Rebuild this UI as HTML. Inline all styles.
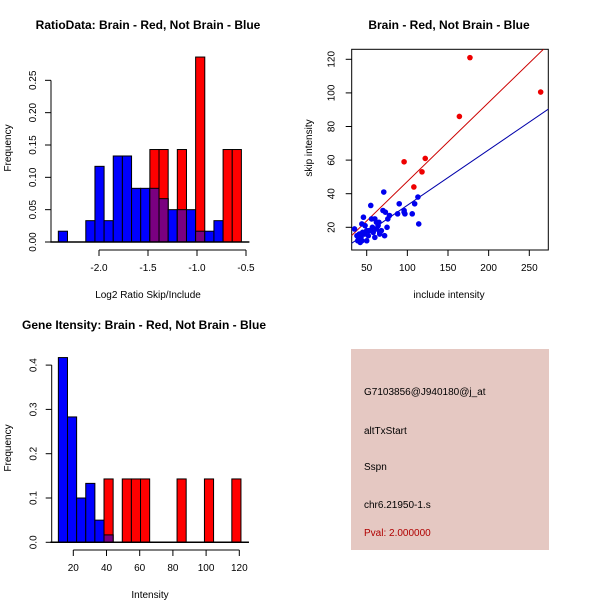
<!DOCTYPE html>
<html><head><meta charset="utf-8"><style>
body{margin:0;background:#fff;}
svg{display:block;font-family:"Liberation Sans",sans-serif;}
</style></head><body>
<svg id="c" width="600" height="600" viewBox="0 0 600 600">
<rect x="0" y="0" width="600" height="600" fill="#fff"/>
<text x="148" y="29" font-size="12" font-weight="bold" text-anchor="middle">RatioData: Brain - Red, Not Brain - Blue</text>
<text x="449" y="29" font-size="12" font-weight="bold" text-anchor="middle">Brain - Red, Not Brain - Blue</text>
<text x="144" y="329" font-size="12" font-weight="bold" text-anchor="middle">Gene Itensity: Brain - Red, Not Brain - Blue</text>
<text x="148" y="298" font-size="10" text-anchor="middle">Log2 Ratio Skip/Include</text>
<text x="11" y="148" font-size="10" text-anchor="middle" transform="rotate(-90 11 148)">Frequency</text>
<text x="449" y="298" font-size="10" text-anchor="middle">include intensity</text>
<text x="312" y="148" font-size="10" text-anchor="middle" transform="rotate(-90 312 148)">skip intensity</text>
<text x="150" y="598" font-size="10" text-anchor="middle">Intensity</text>
<text x="11" y="448" font-size="10" text-anchor="middle" transform="rotate(-90 11 448)">Frequency</text>
<g>
<rect x="351" y="349" width="198" height="201" fill="#e5c8c2"/>
<text x="364" y="395" font-size="10">G7103856@J940180@j_at</text>
<text x="364" y="434" font-size="10">altTxStart</text>
<text x="364" y="470" font-size="10">Sspn</text>
<text x="364" y="508" font-size="10">chr6.21950-1.s</text>
<text x="364" y="536" font-size="10" fill="#b00000">Pval: 2.000000</text>
</g>
</svg>
<script>
// Ratio histogram data
const ratioBinStart = -2.415, ratioBinWidth = 0.0934;
const ratioBlue = [0.0167,0,0,0.033,0.117,0.033,0.133,0.133,0.083,0.083,0.083,0.067,0.05,0.05,0.05,0.0167,0.0167,0.033,0,0];
const ratioRed  = [0,0,0,0,0,0,0,0,0,0,0.143,0.143,0,0.143,0,0.286,0,0,0.143,0.143];
const ratioXTicks = [-2.0,-1.5,-1.0,-0.5];
const ratioXLabels = ["-2.0","-1.5","-1.0","-0.5"];
const ratioYTicks = [0,0.05,0.10,0.15,0.20,0.25];
const ratioYLabels = ["0.00","0.05","0.10","0.15","0.20","0.25"];
// Intensity histogram data
const intBinStart = 11, intBinWidth = 5.5;
const intBlue = [0.417,0.283,0.1,0.133,0.05,0.0167,0,0,0,0,0,0,0,0,0,0,0,0,0,0];
const intRed  = [0,0,0,0,0,0.143,0,0.143,0.143,0.143,0,0,0,0.143,0,0,0.143,0,0,0.143];
const intXTicks = [20,40,60,80,100,120];
const intYTicks = [0,0.1,0.2,0.3,0.4];
const intYLabels = ["0.0","0.1","0.2","0.3","0.4"];
// Scatter data
const redX = [96,122,118,108,164,177,264];
const redY = [59,61,53,44,86,121,100.5];
const blueX = [35,38,40,42,44,41,45,46,48,50,52,50,55,56,57,58,60,62,62,64,66,68,70,71,73,75,76,78,72,88,90,96,96,97,106,109,113,114,60,65,43,47,53,39,44,66];
const blueY = [19,15,13,11,12,16,17,26,21,18,15,12,33,25,20,17,14,23,19,21,16,18,30,41,29,20,25,27,15,28,34,30,29,28,28,34,38,22,25,23,14,16,18,12,22,17];
const redLine = [0.3, 0.47];   // intercept, slope
const blueLine = [0.1, 0.33];
const scXTicks = [50,100,150,200,250];
const scYTicks = [20,40,60,80,100,120];

const NS = "http://www.w3.org/2000/svg";
const svg = document.getElementById('c');
function mk(tag, attrs, parent){const e=document.createElementNS(NS,tag);for(const k in attrs)e.setAttribute(k,attrs[k]);(parent||svg).appendChild(e);return e;}

function hist(opts){
  const g = mk('g',{});
  
  
  const sx = v => opts.x0 + (v - opts.xv0) * opts.kx;
  const sy = v => opts.y0 - v * opts.ky;
  for(let i=0;i<opts.blue.length;i++){
    const a = opts.start + i*opts.width, b = a + opts.width;
    const x1 = sx(a), x2 = sx(b);
    const bl = opts.blue[i], rd = opts.red[i];
    if(bl>0){const r=mk('rect',{x:x1,y:sy(bl),width:x2-x1,height:sy(0)-sy(bl),fill:'#0000ff',stroke:'#000','stroke-width':1},g);
      
      }
    if(rd>0){const r=mk('rect',{x:x1,y:sy(rd),width:x2-x1,height:sy(0)-sy(rd),fill:'#ff0000',stroke:'#000','stroke-width':1},g);
      
      }
    const m = Math.min(bl,rd);
    if(m>0){const r=mk('rect',{x:x1,y:sy(m),width:x2-x1,height:sy(0)-sy(m),fill:'#7a0080',stroke:'#000','stroke-width':1},g);
      
      }
  }
  const xs = sx(opts.start), xe = sx(opts.start+opts.width*opts.blue.length);
  mk('line',{x1:xs-8,y1:sy(0),x2:xe+8,y2:sy(0),stroke:'#000','stroke-width':1.5},g);
  const ya = mk('g',{},g);
  
  
  const yt = opts.yTicks;
  mk('line',{x1:opts.yAxisX,y1:sy(yt[0]),x2:opts.yAxisX,y2:sy(yt[yt.length-1]),stroke:'#000'},ya);
  yt.forEach((t,i)=>{mk('line',{x1:opts.yAxisX-6,y1:sy(t),x2:opts.yAxisX,y2:sy(t),stroke:'#000'},ya);
    const lx=opts.yAxisX-15;
    const tx=mk('text',{x:lx,y:sy(t),'font-size':10,'text-anchor':'middle',transform:`rotate(-90 ${lx} ${sy(t)})`},ya);tx.textContent=opts.yLabels[i];});
  const xa = mk('g',{},g);
  
  
  const xt = opts.xTicks, yx = opts.xAxisY;
  mk('line',{x1:sx(xt[0]),y1:yx,x2:sx(xt[xt.length-1]),y2:yx,stroke:'#000'},xa);
  xt.forEach((t,i)=>{mk('line',{x1:sx(t),y1:yx,x2:sx(t),y2:yx+6,stroke:'#000'},xa);
    const tx=mk('text',{x:sx(t),y:yx+21,'font-size':10,'text-anchor':'middle'},xa);tx.textContent=opts.xLabels[i];});
}
hist({name:'ratio-histogram',blue:ratioBlue,red:ratioRed,start:ratioBinStart,width:ratioBinWidth,
  x0:99,xv0:-2,kx:98,y0:242,ky:646.7,yAxisX:51,xAxisY:250,
  xTicks:ratioXTicks,xLabels:ratioXLabels,yTicks:ratioYTicks,yLabels:ratioYLabels});
hist({name:'intensity-histogram',blue:intBlue,red:intRed,start:intBinStart,width:intBinWidth,
  x0:73.3,xv0:20,kx:1.66,y0:542.3,ky:443,yAxisX:51.7,xAxisY:550,
  xTicks:intXTicks,xLabels:intXTicks.map(String),yTicks:intYTicks,yLabels:intYLabels});

(function(){
  const L=351.7,R=548.3,T=49.3,B=250;
  const sx = v => 366.7 + (v-50)*0.813;
  const sy = v => 227.3 - (v-20)*1.68;
  const g = mk('g',{});
  
  
  const cp = mk('clipPath',{id:'clp'},g);
  mk('rect',{x:L,y:T,width:R-L,height:B-T},cp);
  const box = mk('rect',{x:L,y:T,width:R-L,height:B-T,fill:'none',stroke:'#000'},g);
  
  
  const xmin=20,xmax=290;
  const rl = mk('line',{x1:sx(xmin),y1:sy(redLine[0]+redLine[1]*xmin),x2:sx(xmax),y2:sy(redLine[0]+redLine[1]*xmax),stroke:'#cc0000','clip-path':'url(#clp)'},g);
  
  
  const bl = mk('line',{x1:sx(xmin),y1:sy(blueLine[0]+blueLine[1]*xmin),x2:sx(xmax),y2:sy(blueLine[0]+blueLine[1]*xmax),stroke:'#0000aa','clip-path':'url(#clp)'},g);
  
  
  blueX.forEach((x,i)=>{const c=mk('circle',{cx:sx(x),cy:sy(blueY[i]),r:2.8,fill:'#0000ee'},g);
    
    });
  redX.forEach((x,i)=>{const c=mk('circle',{cx:sx(x),cy:sy(redY[i]),r:2.8,fill:'#ee0000'},g);
    
    });
  const xa = mk('g',{},g);
  
  
  scXTicks.forEach(t=>{mk('line',{x1:sx(t),y1:B,x2:sx(t),y2:B+6,stroke:'#000'},xa);
    const tx=mk('text',{x:sx(t),y:B+21,'font-size':10,'text-anchor':'middle'},xa);tx.textContent=String(t);});
  const ya = mk('g',{},g);
  
  
  scYTicks.forEach(t=>{mk('line',{x1:L-6,y1:sy(t),x2:L,y2:sy(t),stroke:'#000'},ya);
    const x=L-17;const tx=mk('text',{x:x,y:sy(t),'font-size':10,'text-anchor':'middle',transform:`rotate(-90 ${x} ${sy(t)})`},ya);tx.textContent=String(t);});
})();
</script>
</body></html>
